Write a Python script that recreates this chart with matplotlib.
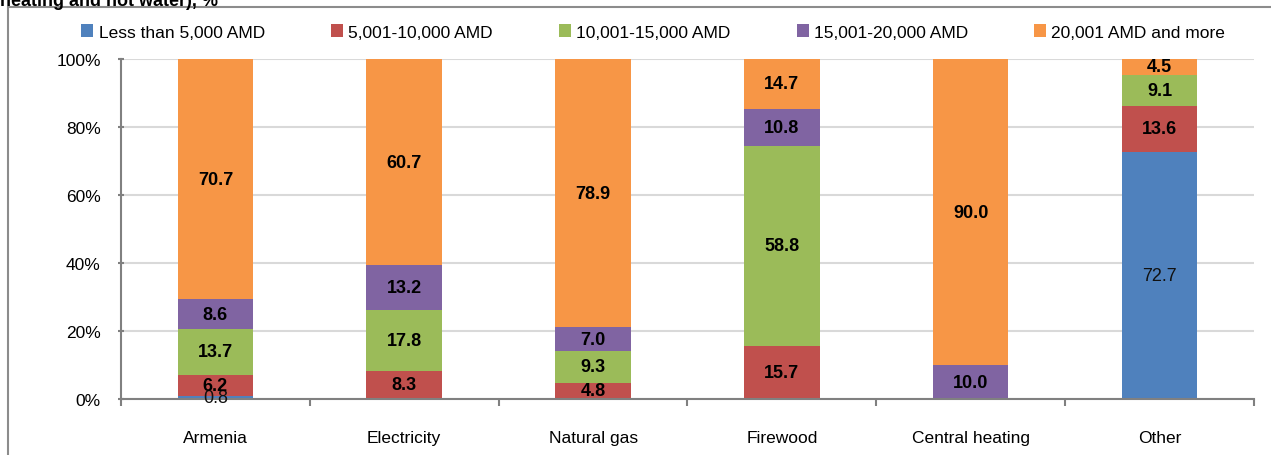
import numpy as np
import matplotlib
matplotlib.use('Agg')
import matplotlib.pyplot as plt
from matplotlib.patches import Rectangle

plt.rcParams['font.family'] = ['Liberation Sans Narrow', 'Liberation Sans', 'DejaVu Sans']

# 数据
categories = ['Armenia', 'Electricity', 'Natural gas', 'Firewood', 'Central heating', 'Other']
series_names = ['Less than 5,000 AMD', '5,001-10,000 AMD', '10,001-15,000 AMD',
                '15,001-20,000 AMD', '20,001 AMD and more']
less_5000 = [0.8, 0, 0, 0, 0, 72.7]
from_5001 = [6.2, 8.3, 4.8, 15.7, 0, 13.6]
from_10001 = [13.7, 17.8, 9.3, 58.8, 0, 9.1]
from_15001 = [8.6, 13.2, 7.0, 10.8, 10.0, 0]
from_20001 = [70.7, 60.7, 78.9, 14.7, 90.0, 4.5]
yticks = [0, 20, 40, 60, 80, 100]

colors = ['#4F81BD', '#C0504D', '#9BBB59', '#8064A2', '#F79646']
series = [less_5000, from_5001, from_10001, from_15001, from_20001]

fig = plt.figure(figsize=(12.71, 4.56), dpi=100)
ax = fig.add_axes([0.0952, 0.1228, 0.8914, 0.7456])

x = np.arange(len(categories))
bottom = np.zeros(len(categories))
for name, vals, c in zip(series_names, series, colors):
    vals = np.array(vals, dtype=float)
    ax.bar(x, vals, width=0.4, bottom=bottom, color=c, label=name, zorder=2)
    for xi, b, v in zip(x, bottom, vals):
        if v <= 0:
            continue
        bold = not (c == '#4F81BD')
        ax.text(xi, b + v / 2, '{:.1f}'.format(v), ha='center', va='center',
                fontsize=13, fontweight='bold' if bold else 'normal',
                color='#000000' if bold else '#111111', zorder=3)
    bottom += vals

ax.set_xlim(-0.5, len(categories) - 0.5)
ax.set_ylim(0, 100)
ax.set_yticks(yticks)
ax.set_yticklabels(['{}%'.format(t) for t in yticks], fontsize=12.5)
ax.set_xticks(x)
ax.set_xticklabels(categories, fontsize=12.5)
ax.tick_params(axis='x', length=0, pad=22)
ax.set_xticks(np.arange(-0.5, len(categories)), minor=True)
ax.tick_params(axis='x', which='minor', length=5, color='#808080', width=1.5)
ax.tick_params(axis='y', length=5, direction='inout', color='#808080', width=1.5, pad=12)
ax.grid(axis='y', color='#d9d9d9', linewidth=1.5, zorder=0)
ax.set_axisbelow(True)
for s in ['top', 'right']:
    ax.spines[s].set_visible(False)
for s in ['left', 'bottom']:
    ax.spines[s].set_color('#808080')
    ax.spines[s].set_linewidth(1.5)

# 图表外框
fig.patches.append(Rectangle((8 / 1271, -0.1), 1.2, 1 - 8 / 456 + 0.1,
                             transform=fig.transFigure, fill=False,
                             edgecolor='#8c8c8c', linewidth=1.5))

fig.text(0.0, 1 - 6 / 456, 'heating and hot water), %', fontsize=13,
         fontweight='bold', va='baseline', ha='left')

fig.legend(loc='center', bbox_to_anchor=(0.514, 1 - 33 / 456), ncol=5,
           frameon=False, fontsize=12.5, handlelength=0.7, handleheight=0.7,
           handletextpad=0.3, columnspacing=3.8)

fig.savefig('out.png', dpi=100)
